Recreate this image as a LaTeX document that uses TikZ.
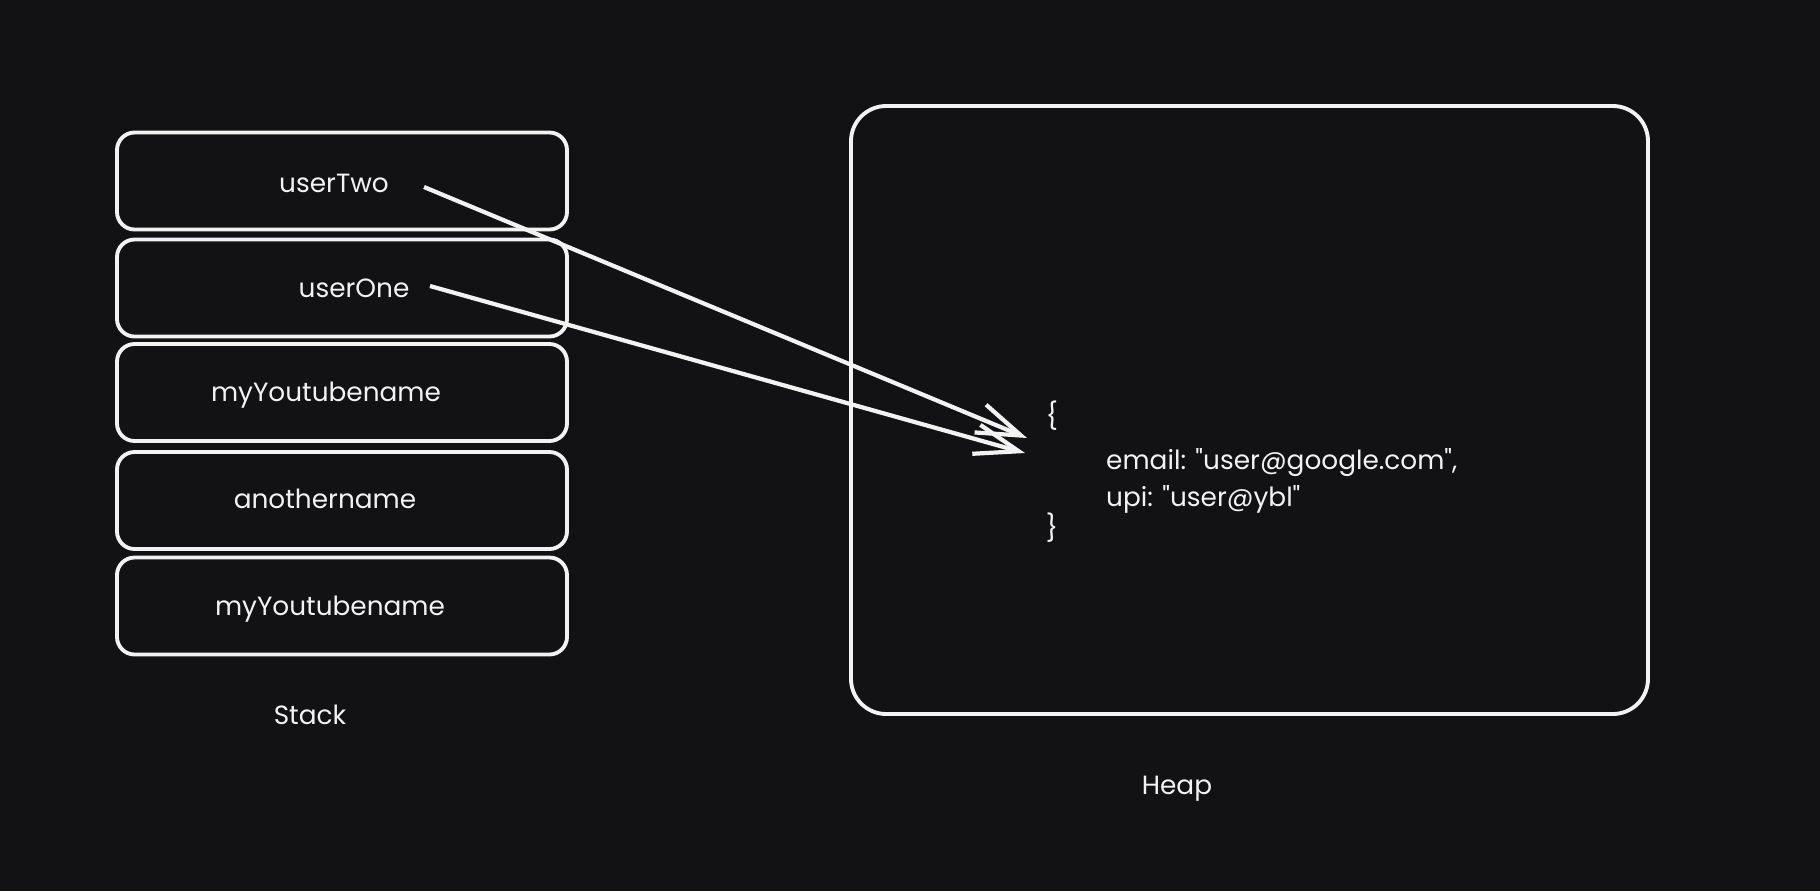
\documentclass[tikz,border=0pt]{standalone}
\usepackage{fontspec}
\setmainfont{Poppins}[Ligatures=TeXOff]
\usetikzlibrary{arrows.meta,positioning,calc}
\definecolor{board}{HTML}{121214}
\definecolor{chalk}{HTML}{F2F2F2}
\tikzset{
  >={Straight Barb[length=4.4mm,width=3.0mm]},
  every node/.style={font=\fontsize{7.5}{9}\selectfont, text=chalk},
  slot/.style={draw=chalk, line width=1.1pt, rounded corners=5pt,
               minimum width=4.50cm, minimum height=0.97cm, inner sep=0pt},
  heapbox/.style={draw=chalk, line width=1.1pt, rounded corners=10pt,
                  minimum width=7.97cm, minimum height=6.08cm, inner sep=0pt},
  word/.style={inner sep=1pt},
  caption/.style={font=\fontsize{7.5}{9}\selectfont},
  ref/.style={->, draw=chalk, line width=1.2pt},
}

\begin{document}
\begin{tikzpicture}
\fill[board] (0,0) rectangle (18.2,-8.91);
\useasboundingbox (0,0) rectangle (18.2,-8.91);

% ================= stack =================
\foreach \i/\y/\tx/\ty/\lab in {1/1.81/3.34/1.83/userTwo, 2/2.88/3.54/2.88/userOne,
    3/3.925/3.26/3.95/myYoutubename, 4/5.005/3.25/4.99/anothername,
    5/6.06/3.30/6.09/myYoutubename}{
  \node[slot] (slot\i) at (3.42,-\y) {};
  \node[word] (name\i) at (\tx,-\ty) {\lab};
}
\node[caption] (stack) at (3.10,-7.15) {Stack};

% ================= heap =================
\node[heapbox] (heap) at (12.495,-4.10) {};
\node[caption] (heaplab) at (11.77,-7.89) {Heap};

% the object the two names point to
\node[word] (ob) at (10.52,-4.16) {\{};
\node[word, anchor=west, align=left] (fields) at (11.02,-4.81)
  {email: "user@google.com",\\[1.5pt] upi: "user@ybl"};
\node[word] (cb) at (10.52,-5.28) {\}};

% loose ends of the two references
\coordinate (fromTwo) at (4.24,-1.87);
\coordinate (fromOne) at (4.30,-2.86);
\coordinate (tipTwo) at (10.27,-4.38);
\coordinate (tipOne) at (10.25,-4.53);

% references from stack to heap
\draw[ref] (fromTwo) -- (tipTwo);
\draw[ref] (fromOne) -- (tipOne);

\end{tikzpicture}
\end{document}
